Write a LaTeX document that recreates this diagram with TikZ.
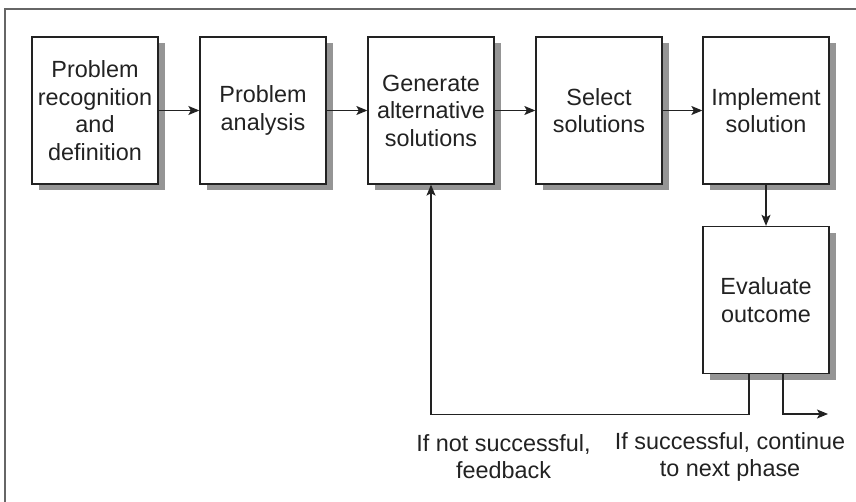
\documentclass[tikz,border=0pt]{standalone}
\usepackage{fontspec}
\setmainfont{Liberation Sans}
\usetikzlibrary{arrows.meta,shadows}
\definecolor{ink}{HTML}{222222}
\definecolor{shade}{HTML}{959595}
\definecolor{frame}{HTML}{666666}
\tikzset{
  stepbox/.style={draw=ink, line width=1.3pt, fill=white, minimum width=126pt, minimum height=147pt,
    inner sep=0pt, text width=124pt, align=center, text=ink,
    font=\fontsize{23.4pt}{27.5pt}\selectfont,
    drop shadow={shadow xshift=6.5pt, shadow yshift=-6.5pt, fill=shade, opacity=1}},
  arr/.style={draw=ink, line width=1.2pt, -{Stealth[length=11pt,width=9pt,inset=2.5pt]}},
  lbl/.style={align=center, text=ink, inner sep=0pt, font=\fontsize{23.4pt}{27pt}\selectfont}
}
\begin{document}
\begin{tikzpicture}[x=1pt,y=-1pt]
\useasboundingbox (0,0) rectangle (856,502);
\draw[frame, line width=2pt] (5,503) -- (5,9) -- (857,9);
\node[stepbox] (b1) at (95,110.5) {Problem\\recognition\\and\\definition};
\node[stepbox] (b2) at (263,110.5) {Problem\\analysis};
\node[stepbox] (b3) at (431,110.5) {Generate\\alternative\\solutions};
\node[stepbox] (b4) at (599,110.5) {Select\\solutions};
\node[stepbox] (b5) at (766,110.5) {Implement\\solution};
\node[stepbox] (ev) at (766,300) {Evaluate\\outcome};
\draw[arr] (b1) -- (b2);
\draw[arr] (b2) -- (b3);
\draw[arr] (b3) -- (b4);
\draw[arr] (b4) -- (b5);
\draw[arr] (b5) -- (ev);
\coordinate (out) at (828,414);
\draw[arr] ([xshift=-17pt]ev.south) -- ++(0,40) -| (b3.south);
\draw[arr] ([xshift=17pt]ev.south) |- (out);
\node[lbl] (l1) at (503.5,457) {If not successful,\\feedback};
\node[lbl] (l2) at (730,457) {If successful, continue\\to next phase};
\end{tikzpicture}
\end{document}
